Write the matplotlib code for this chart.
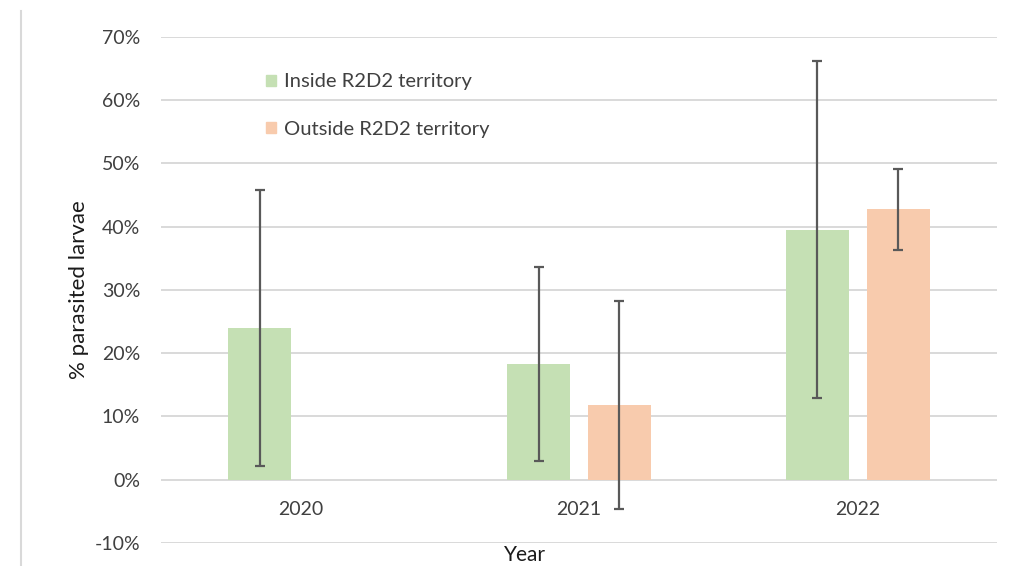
import numpy as np
import matplotlib
matplotlib.use('Agg')
import matplotlib.pyplot as plt
from matplotlib.patches import Patch
from matplotlib.lines import Line2D
from matplotlib.ticker import FuncFormatter

plt.rcParams['font.family'] = ['Lato', 'DejaVu Sans']
plt.rcParams['axes.unicode_minus'] = False

# data (percent)
years = ['2020', '2021', '2022']
inside = [24.0, 18.3, 39.5]
inside_err = [21.8, 15.35, 26.6]
outside = [np.nan, 11.8, 42.7]
outside_err = [np.nan, 16.5, 6.45]
labels = ['Inside R2D2 territory', 'Outside R2D2 territory']

c_in = '#C5E0B4'
c_out = '#F8CBAD'
c_err = '#595959'
c_txt = '#404040'

fig = plt.figure(figsize=(10.2, 5.66), dpi=100)
ax = fig.add_axes([161/1020, 1-543/566, (997-161)/1020, (543-36.7)/566])

x = np.arange(len(years))
w = 0.226
off = 0.145
ekw = dict(ecolor=c_err, elinewidth=1.6, capsize=3.8, capthick=1.6)
ax.bar(x-off, inside, w, color=c_in, yerr=inside_err, error_kw=ekw, zorder=2)
ax.bar(x+off, outside, w, color=c_out, yerr=outside_err, error_kw=ekw, zorder=2)

ax.set_xlim(-0.5, 2.5)
ax.set_ylim(-10, 70)
ax.set_yticks(np.arange(-10, 71, 10))
ax.yaxis.set_major_formatter(FuncFormatter(lambda v, p: f'{v:.0f}%'))
ax.set_xticks(x)
ax.set_xticklabels(years)
ax.grid(axis='y', color='#d9d9d9', linewidth=1.4)
ax.set_axisbelow(True)
for s in ax.spines.values():
    s.set_visible(False)
ax.spines['bottom'].set_position(('data', 0))
ax.tick_params(axis='y', length=0, pad=15, labelsize=14, labelcolor=c_txt)
ax.tick_params(axis='x', length=0, pad=15, labelsize=14, labelcolor=c_txt)

fig.text(79/1020, 1-290/566, '% parasited larvae', rotation=90, ha='center', va='center',
         fontsize=16, color='#1a1a1a')
fig.text(525/1020, 1-555/566, 'Year', ha='center', va='center', fontsize=15, color='#1a1a1a')

handles = [Patch(color=c_in), Patch(color=c_out)]
ax.legend(handles, labels, loc='upper left', bbox_to_anchor=(266/1020, 1-73.5/566),
          bbox_transform=fig.transFigure, frameon=False, fontsize=14.5,
          handlelength=0.5, handleheight=0.5, handletextpad=0.4, labelspacing=1.5,
          borderpad=0, borderaxespad=0, labelcolor=c_txt)

# light frame line on the left of the chart area
fig.add_artist(Line2D([21/1020, 21/1020], [0, 1-11/566], color='#d9d9d9', linewidth=1.5))

fig.savefig('out.png', dpi=100)
